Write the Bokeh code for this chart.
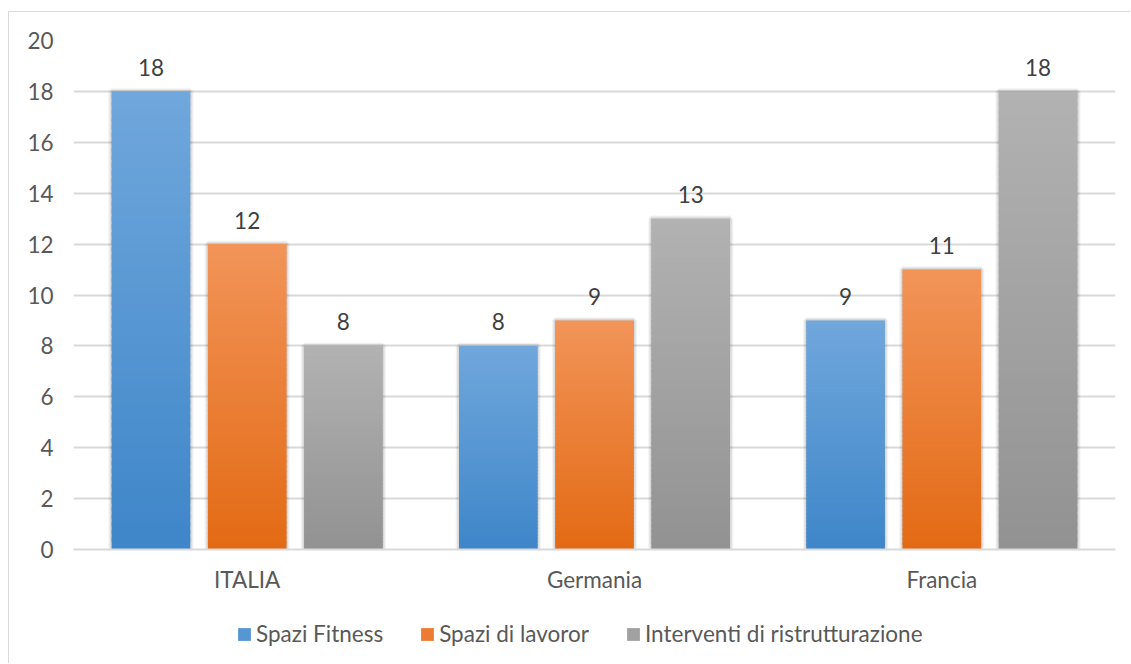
from bokeh.plotting import figure
from bokeh.layouts import column
from bokeh.models import (ColumnDataSource, FactorRange, Legend, LegendItem,
                          SingleIntervalTicker)
from bokeh.transform import dodge
from bokeh.core.properties import value
from bokeh.embed import file_html
from bokeh.resources import INLINE

# --- data -----------------------------------------------------------------
countries = ["ITALIA", "Germania", "Francia"]
series_names = ["Spazi Fitness", "Spazi di lavoror", "Interventi di ristrutturazione"]
spazi_fitness = [18, 8, 9]
spazi_lavoro = [12, 9, 11]
interventi = [8, 13, 18]
series_values = [spazi_fitness, spazi_lavoro, interventi]

# gradient end colours per series (top, bottom) and legend swatch colour
grad_top = ["#70A7DC", "#F29459", "#B2B2B2"]
grad_bottom = ["#3E86C9", "#E36A14", "#929292"]
swatch = ["#5596D3", "#EC7B34", "#A1A1A1"]
offsets = [-0.277, 0.0, 0.277]
BAR_W = 0.226
N_BANDS = 60

FONT = "Lato"
FONT_SIZE = "22.5px"
TICK_COLOR = "#595959"
LABEL_COLOR = "#404040"
GRID_COLOR = "#D9D9D9"
BORDER = "1px solid #D9D9D9"


def hex_to_rgb(h):
    h = h.lstrip("#")
    return tuple(int(h[i:i + 2], 16) for i in (0, 2, 4))


def mix(c_top, c_bot, t):
    a, b = hex_to_rgb(c_top), hex_to_rgb(c_bot)
    r = [round(b[i] + (a[i] - b[i]) * t) for i in range(3)]
    return "#%02x%02x%02x" % tuple(r)


# --- main bar chart ---------------------------------------------------------
p = figure(
    x_range=FactorRange(*countries, range_padding=0),
    y_range=(0, 20),
    width=1122, height=588,
    output_backend="svg", toolbar_location=None,
    min_border_left=64, min_border_top=28, min_border_right=16, min_border_bottom=51,
    margin=(11, 0, 0, 8),
    styles={"border-top": BORDER, "border-left": BORDER},
)
p.outline_line_color = None
p.background_fill_color = "white"
p.border_fill_color = "white"

p.yaxis.ticker = SingleIntervalTicker(interval=2)
p.yaxis.axis_line_color = None
p.yaxis.major_tick_line_color = None
p.yaxis.minor_tick_line_color = None
p.yaxis.major_label_standoff = 14
p.xaxis.axis_line_color = GRID_COLOR
p.xaxis.axis_line_width = 2
p.xaxis.major_tick_line_color = None
p.xaxis.major_label_standoff = 10
for ax in (p.xaxis, p.yaxis):
    ax.major_label_text_font = FONT
    ax.major_label_text_font_size = FONT_SIZE
    ax.major_label_text_color = TICK_COLOR
p.xgrid.grid_line_color = None
p.ygrid.grid_line_color = GRID_COLOR
p.ygrid.grid_line_width = 2

for s, (name, vals) in enumerate(zip(series_names, series_values)):
    # soft shadow behind each bar
    shadow_src = ColumnDataSource(dict(country=countries, top=vals))
    for k, a in ((7, 0.035), (5, 0.05), (3, 0.07)):
        p.vbar(x=dodge("country", offsets[s], range=p.x_range), top="top", bottom=0,
               width=BAR_W, source=shadow_src, fill_color="#000000", fill_alpha=a,
               line_color="#000000", line_alpha=a, line_width=k)

    # each bar is stacked from thin overlapping bands to give a vertical gradient
    xs, bottoms, tops, colors = [], [], [], []
    for c, v in zip(countries, vals):
        step = v / N_BANDS
        for i in range(N_BANDS):
            xs.append(c)
            bottoms.append(i * step)
            tops.append(min(v, (i + 1.6) * step))
            colors.append(mix(grad_top[s], grad_bottom[s], (i + 0.5) / N_BANDS))
    src = ColumnDataSource(dict(country=xs, bottom=bottoms, top=tops, color=colors))
    p.vbar(x=dodge("country", offsets[s], range=p.x_range), bottom="bottom", top="top",
           width=BAR_W, source=src, fill_color="color", line_color=None)

    # value labels above the bars
    lab_src = ColumnDataSource(dict(country=countries, y=[v + 0.94 for v in vals],
                                    text=[str(v) for v in vals]))
    p.text(x=dodge("country", offsets[s], range=p.x_range), y="y", text="text",
           source=lab_src, text_align="center", text_baseline="middle",
           text_font=value(FONT), text_font_size=FONT_SIZE, text_color=LABEL_COLOR)

# --- legend strip underneath --------------------------------------------------
leg = figure(
    x_range=(0, 1), y_range=(0, 1),
    width=1122, height=64,
    output_backend="svg", toolbar_location=None,
    x_axis_location=None, y_axis_location=None,
    min_border=0, margin=(0, 0, 0, 8),
    styles={"border-left": BORDER},
)
leg.outline_line_color = None
leg.grid.visible = False
leg.background_fill_color = "white"
leg.border_fill_color = "white"

items = []
for name, col in zip(series_names, swatch):
    # zero-height bar: only its legend swatch is seen
    r = leg.vbar(x=[0.5], top=[0], bottom=[0], width=0.0, fill_color=col, line_color=None)
    items.append(LegendItem(label=name, renderers=[r], index=0))

legend = Legend(items=items, orientation="horizontal", location=(163, 16))
legend.border_line_color = None
legend.background_fill_alpha = 0
legend.padding = 0
legend.margin = 0
legend.spacing = 36
legend.glyph_width = 16
legend.glyph_height = 16
legend.label_standoff = 4
legend.label_text_font = FONT
legend.label_text_font_size = FONT_SIZE
legend.label_text_color = TICK_COLOR
leg.add_layout(legend, "center")

layout = column(p, leg, spacing=0)
open("out.html", "w").write(file_html(layout, INLINE))
